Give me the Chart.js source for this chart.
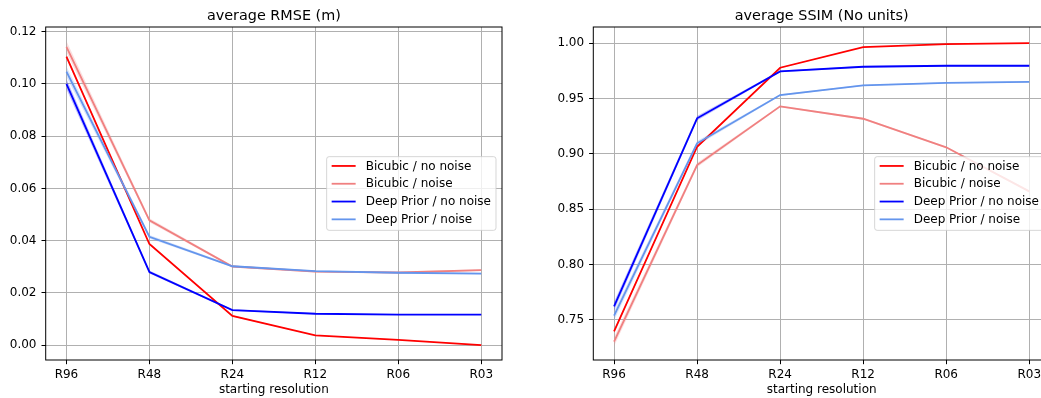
<!DOCTYPE html>
<html>
<head>
<meta charset="utf-8">
<script src="https://cdn.jsdelivr.net/npm/chart.js@4.4.1/dist/chart.umd.min.js"></script>
<style>
  html, body { margin: 0; padding: 0; background: #fff; }
  #wrap  { position: relative; width: 1041px; height: 398px; overflow: hidden; }
  #rmse  { position: absolute; left: 0;     top: 0; }
  #ssim  { position: absolute; left: 520px; top: 0; }
</style>
</head>
<body>
<div id="wrap">
  <canvas id="rmse" width="520" height="398"></canvas>
  <canvas id="ssim" width="535" height="398"></canvas>
</div>
<script>
// ── Data ──────────────────────────────────────────────────────
const resolutions  = ['R96', 'R48', 'R24', 'R12', 'R06', 'R03'];
const seriesNames  = ['Bicubic / no noise', 'Bicubic / noise', 'Deep Prior / no noise', 'Deep Prior / noise'];
const seriesColors = ['#ff0000', '#f08080', '#0000ff', '#6495ed'];

// average RMSE (m)
const rmseBicubic      = [0.1105, 0.0387, 0.0112, 0.0037, 0.0020, 0.0000];
const rmseBicubicNoise = [0.1142, 0.0478, 0.0301, 0.0281, 0.0278, 0.0287];
const rmseDeep         = [0.1000, 0.0280, 0.0134, 0.0120, 0.0117, 0.0117];
const rmseDeepNoise    = [0.1047, 0.0415, 0.0302, 0.0283, 0.0277, 0.0274];
// half-width of the shaded spread around each RMSE line
const rmseBicubicSpread      = [0.0007, 0.0003, 0.0002, 0.0001, 0.0001, 0.0001];
const rmseBicubicNoiseSpread = [0.0022, 0.0008, 0.0004, 0.0003, 0.0003, 0.0003];
const rmseDeepSpread         = [0.0020, 0.0006, 0.0003, 0.0002, 0.0002, 0.0002];
const rmseDeepNoiseSpread    = [0.0020, 0.0007, 0.0004, 0.0003, 0.0003, 0.0003];
const rmseTicks = [0.00, 0.02, 0.04, 0.06, 0.08, 0.10, 0.12];

// average SSIM (No units)
const ssimBicubic      = [0.7395, 0.9063, 0.9777, 0.9964, 0.9990, 1.0000];
const ssimBicubicNoise = [0.7301, 0.8898, 0.9428, 0.9316, 0.9058, 0.8660];
const ssimDeep         = [0.7621, 0.9320, 0.9744, 0.9786, 0.9795, 0.9795];
const ssimDeepNoise    = [0.7536, 0.9094, 0.9530, 0.9617, 0.9640, 0.9650];
const ssimBicubicSpread      = [0.0015, 0.0010, 0.0004, 0.0002, 0.0002, 0.0001];
const ssimBicubicNoiseSpread = [0.0040, 0.0020, 0.0008, 0.0008, 0.0008, 0.0010];
const ssimDeepSpread         = [0.0040, 0.0020, 0.0008, 0.0006, 0.0006, 0.0006];
const ssimDeepNoiseSpread    = [0.0040, 0.0020, 0.0008, 0.0006, 0.0006, 0.0006];
const ssimTicks = [0.75, 0.80, 0.85, 0.90, 0.95, 1.00];

// ── Style ─────────────────────────────────────────────────────
const FONT      = '"DejaVu Sans", sans-serif';
const TEXT      = '#000';
const GRID      = '#b0b0b0';

function toPoints(values) { return values.map((v, i) => ({ x: i, y: v })); }

function alpha(hex, a) {
  const n = parseInt(hex.slice(1), 16);
  return `rgba(${n >> 16},${(n >> 8) & 255},${n & 255},${a})`;
}

// one spread band (upper + lower filled) and the line on top of it
function buildDatasets(seriesValues, seriesSpreads) {
  const bands = [], lines = [];
  seriesValues.forEach((values, s) => {
    const color  = seriesColors[s];
    const spread = seriesSpreads[s];
    bands.push({
      data: toPoints(values.map((v, i) => v + spread[i])),
      borderWidth: 0, pointRadius: 0, fill: false, order: 20,
    });
    bands.push({
      data: toPoints(values.map((v, i) => v - spread[i])),
      borderWidth: 0, pointRadius: 0, fill: '-1', order: 20,
      backgroundColor: alpha(color, 0.25),
    });
    lines.push({
      label: seriesNames[s],
      data: toPoints(values),
      borderColor: color, borderWidth: 1.8,
      pointRadius: 0, tension: 0, fill: false,
      order: 4 - s,
    });
  });
  return bands.concat(lines);
}

// ── Frame, title and in-axes legend ───────────────────────────
const framePlugin = {
  id: 'frame',
  afterDraw(chart, args, opts) {
    const { ctx, chartArea: a } = chart;
    ctx.save();

    ctx.strokeStyle = '#000';
    ctx.lineWidth   = 1;
    ctx.strokeRect(a.left, a.top, a.right - a.left, a.bottom - a.top);

    ctx.fillStyle    = TEXT;
    ctx.font         = `14.4px ${FONT}`;
    ctx.textAlign    = 'center';
    ctx.textBaseline = 'middle';
    ctx.fillText(opts.title, (a.left + a.right) / 2, 16.5);

    // legend, matplotlib 'center right'
    ctx.font = `12px ${FONT}`;
    const textW = Math.max(...seriesNames.map(n => ctx.measureText(n).width));
    const rowH  = 17.8;
    const boxW  = 5 + 24 + 10 + textW + 5;
    const boxH  = 73.7;
    const boxX  = a.right - 6 - boxW;
    const boxY  = (a.top + a.bottom) / 2 - boxH / 2;

    ctx.beginPath();
    ctx.roundRect(boxX, boxY, boxW, boxH, 2.5);
    ctx.fillStyle   = 'rgba(255,255,255,0.8)';
    ctx.fill();
    ctx.strokeStyle = 'rgba(204,204,204,0.8)';
    ctx.lineWidth   = 1;
    ctx.stroke();

    seriesNames.forEach((name, s) => {
      const cy = boxY + 9.3 + s * rowH;
      ctx.strokeStyle = seriesColors[s];
      ctx.lineWidth   = 1.8;
      ctx.beginPath();
      ctx.moveTo(boxX + 5, cy);
      ctx.lineTo(boxX + 29, cy);
      ctx.stroke();
      ctx.fillStyle    = TEXT;
      ctx.textAlign    = 'left';
      ctx.textBaseline = 'middle';
      ctx.fillText(name, boxX + 39, cy + 0.5);
    });
    ctx.restore();
  },
};

function makeChart(id, title, datasets, yMin, yMax, yTicks, yWidth, padRight) {
  const tickFont = { family: FONT, size: 12 };
  return new Chart(document.getElementById(id), {
    type: 'line',
    data: { datasets },
    plugins: [framePlugin],
    options: {
      responsive: false, animation: false,
      layout: { padding: { top: 27, right: padRight, left: 0, bottom: 0 } },
      plugins: {
        legend:  { display: false },
        tooltip: { enabled: false },
        frame:   { title },
      },
      scales: {
        x: {
          type: 'linear', min: -0.25, max: 5.25,
          afterBuildTicks: s => { s.ticks = resolutions.map((_, i) => ({ value: i })); },
          afterFit: s => { s.height = 38; },
          ticks: {
            callback: (v, i) => resolutions[i],
            font: tickFont, color: TEXT,
            padding: 3, maxRotation: 0, autoSkip: false,
          },
          grid:   { color: GRID, lineWidth: 1, tickLength: 4.2, tickColor: '#000' },
          border: { display: false },
          title:  {
            display: true, text: 'starting resolution',
            font: tickFont, color: TEXT,
            padding: { top: 0, bottom: 1 },
          },
        },
        y: {
          min: yMin, max: yMax,
          afterBuildTicks: s => { s.ticks = yTicks.map(v => ({ value: v })); },
          afterFit: s => { s.width = yWidth; },
          ticks: {
            callback: v => Number(v).toFixed(2),
            font: tickFont, color: TEXT,
            padding: 5,
          },
          grid:   { color: GRID, lineWidth: 1, tickLength: 4.2, tickColor: '#000' },
          border: { display: false },
        },
      },
    },
  });
}

makeChart('rmse', 'average RMSE (m)',
  buildDatasets(
    [rmseBicubic, rmseBicubicNoise, rmseDeep, rmseDeepNoise],
    [rmseBicubicSpread, rmseBicubicNoiseSpread, rmseDeepSpread, rmseDeepNoiseSpread]),
  -0.0057, 0.1218, rmseTicks, 45.7, 18);

makeChart('ssim', 'average SSIM (No units)',
  buildDatasets(
    [ssimBicubic, ssimBicubicNoise, ssimDeep, ssimDeepNoise],
    [ssimBicubicSpread, ssimBicubicNoiseSpread, ssimDeepSpread, ssimDeepNoiseSpread]),
  0.7136, 1.0145, ssimTicks, 73.3, 5);
</script>
</body>
</html>
